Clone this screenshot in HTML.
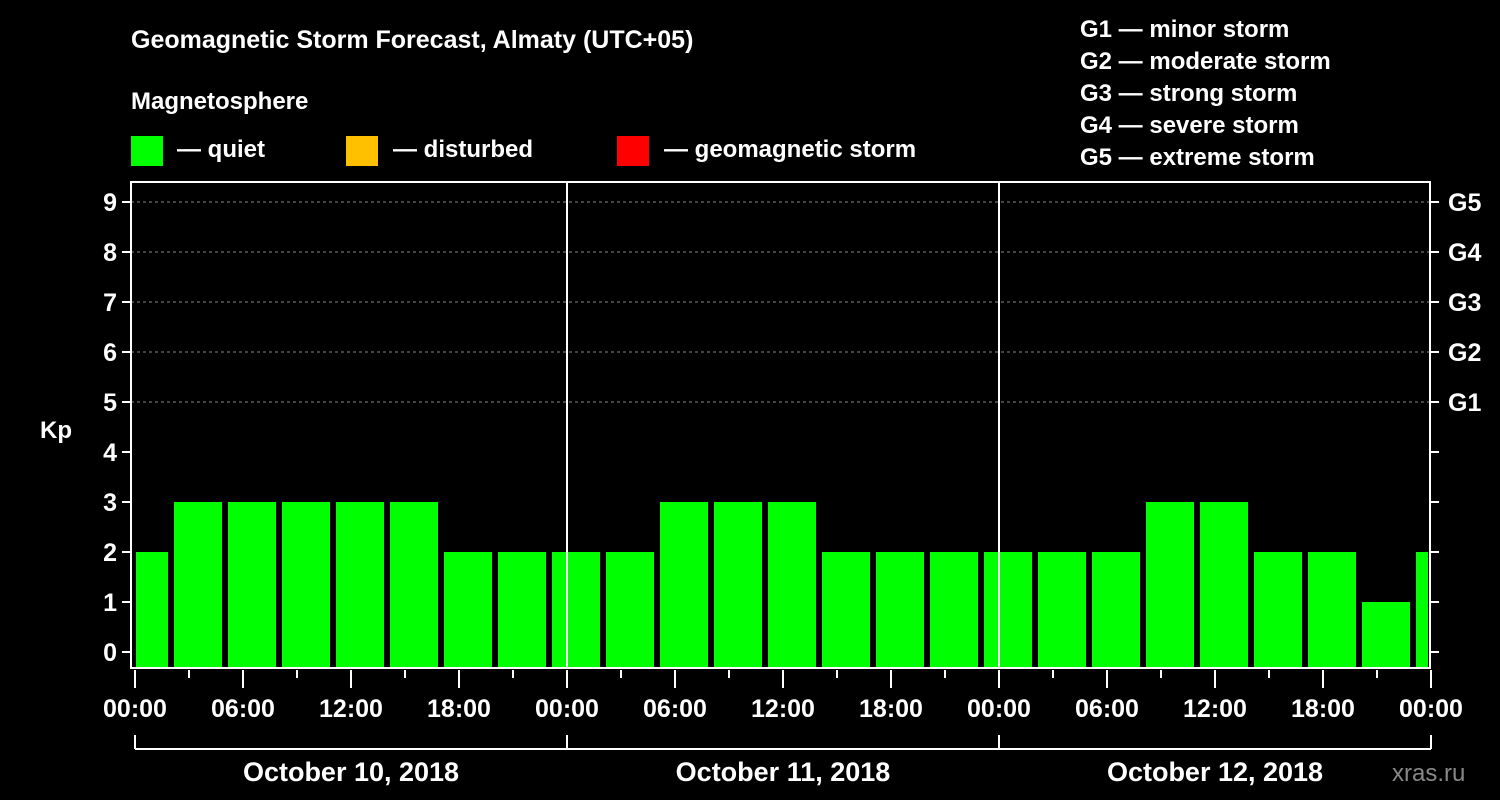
<!DOCTYPE html>
<html><head><meta charset="utf-8"><style>
html,body{margin:0;padding:0;background:#000;}
svg{display:block;font-family:"Liberation Sans",sans-serif;font-weight:bold;}
</style></head><body>
<svg width="1500" height="800" viewBox="0 0 1500 800">
<rect width="1500" height="800" fill="#000"/>
<text x="131" y="48" font-size="25" fill="#fff">Geomagnetic Storm Forecast, Almaty (UTC+05)</text>
<text x="131" y="109" font-size="24" fill="#fff">Magnetosphere</text>
<g><rect x="131" y="136" width="32" height="30" fill="#00ff00"/><text x="177" y="157" font-size="24" fill="#fff">— quiet</text></g>
<g><rect x="346" y="136" width="32" height="30" fill="#ffc000"/><text x="393" y="157" font-size="24" fill="#fff">— disturbed</text></g>
<g><rect x="617" y="136" width="32" height="30" fill="#ff0000"/><text x="664" y="157" font-size="24" fill="#fff">— geomagnetic storm</text></g>
<g font-size="24" fill="#fff">
<text x="1080" y="37">G1 — minor storm</text>
<text x="1080" y="69">G2 — moderate storm</text>
<text x="1080" y="101">G3 — strong storm</text>
<text x="1080" y="133">G4 — severe storm</text>
<text x="1080" y="165">G5 — extreme storm</text>
</g>
<text x="40" y="438" font-size="24" fill="#fff">Kp</text>
<g id="grid"></g><g id="bars"></g><g id="axes"></g>
<text x="1392" y="781" font-size="24" fill="#888" font-weight="normal">xras.ru</text>
</svg>
<script>
const kpValues=[2,3,3,3,3,3,2,2,2,2,3,3,3,2,2,2,2,2,2,3,3,2,2,1,2];
const dayLabels=["October 10, 2018","October 11, 2018","October 12, 2018"];
const hourLabels=["00:00","06:00","12:00","18:00"];
const gLabels=["G1","G2","G3","G4","G5"];
const NS="http://www.w3.org/2000/svg";
const X0=135,PX_H=18,Y0=652,PX_K=50,L=131,R=1430,T=182,B=668;
const xs=h=>X0+h*PX_H, ys=k=>Y0-k*PX_K;
function mk(tag,attrs,parent,text){const e=document.createElementNS(NS,tag);for(const k in attrs)e.setAttribute(k,attrs[k]);if(text!==undefined)e.textContent=text;parent.appendChild(e);return e;}
const grid=document.getElementById('grid'),bars=document.getElementById('bars'),axes=document.getElementById('axes');
for(let k=5;k<=9;k++){const l=mk('line',{x1:L,x2:R,y1:ys(k),y2:ys(k),stroke:'#888','stroke-dasharray':'3,3','stroke-width':1},grid);

}
kpValues.forEach((v,i)=>{const hs=-1+i*3;let x1=xs(hs)+3,x2=xs(hs+3)-3;x1=Math.max(x1,L+5);x2=Math.min(x2,R-2);
const r=mk('rect',{x:x1,y:ys(v),width:x2-x1,height:B-ys(v),fill:'#00ff00'},bars);

});
mk('rect',{x:L,y:T,width:R-L,height:B-T,fill:'none',stroke:'#fff','stroke-width':2},axes);
for(let d=1;d<=2;d++)mk('line',{x1:xs(d*24),x2:xs(d*24),y1:T,y2:B,stroke:'#fff','stroke-width':2},axes);
for(let k=0;k<=9;k++){mk('line',{x1:L-9,x2:L,y1:ys(k),y2:ys(k),stroke:'#fff','stroke-width':2},axes);
mk('line',{x1:R,x2:R+9,y1:ys(k),y2:ys(k),stroke:'#fff','stroke-width':2},axes);
const t=mk('text',{x:L-14,y:ys(k)+9,'font-size':25,fill:'#fff','text-anchor':'end'},axes,String(k));

}
gLabels.forEach((g,i)=>{const t=mk('text',{x:R+18,y:ys(5+i)+9,'font-size':25,fill:'#fff'},axes,g);

});
for(let h=0;h<=72;h+=3){const major=h%6===0;mk('line',{x1:xs(h),x2:xs(h),y1:B+2,y2:B+(major?20:10),stroke:'#fff','stroke-width':2},axes);
if(major){const t=mk('text',{x:xs(h),y:B+49,'font-size':25,fill:'#fff','text-anchor':'middle'},axes,hourLabels[(h/6)%4]);

}}
mk('line',{x1:X0,x2:xs(72),y1:749,y2:749,stroke:'#fff','stroke-width':2},axes);
for(let d=0;d<=3;d++)mk('line',{x1:xs(d*24),x2:xs(d*24),y1:735,y2:749,stroke:'#fff','stroke-width':2},axes);
dayLabels.forEach((s,i)=>{const t=mk('text',{x:xs(i*24+12),y:781,'font-size':27,fill:'#fff','text-anchor':'middle'},axes,s);

});
</script>
</body></html>
